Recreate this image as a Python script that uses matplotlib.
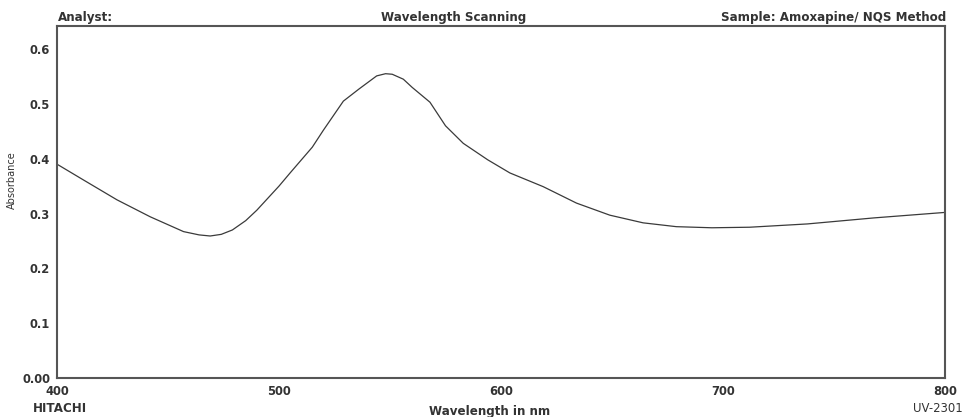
import matplotlib.pyplot as plt

# Wavelength scan
wavelength = [400, 412, 427, 442, 457, 464, 469, 474, 479, 485, 490, 500, 505,
              515, 520, 529, 536, 544, 548, 551, 556, 560, 568, 575, 583, 594,
              604, 619, 634, 649, 664, 679, 695, 712, 738, 768, 800]
absorbance = [0.390, 0.361, 0.325, 0.294, 0.267, 0.261, 0.259, 0.262, 0.270, 0.287,
              0.306, 0.350, 0.374, 0.421, 0.452, 0.505, 0.527, 0.551, 0.555, 0.554,
              0.545, 0.530, 0.503, 0.460, 0.428, 0.398, 0.374, 0.349, 0.319, 0.297,
              0.283, 0.276, 0.274, 0.275, 0.281, 0.292, 0.302]

x_ticks = [400, 500, 600, 700, 800]
y_ticks = [0.0, 0.1, 0.2, 0.3, 0.4, 0.5, 0.6]
y_labels = ["0.00", "0.1", "0.2", "0.3", "0.4", "0.5", "0.6"]

plt.rcParams["font.family"] = ["DejaVu Sans"]

fig = plt.figure(figsize=(9.64, 4.17), dpi=100)
ax = fig.add_axes([57 / 964, 39 / 417, 888 / 964, 352 / 417])

ax.plot(wavelength, absorbance, color="#3a3a3a", linewidth=0.9)

ax.set_xlim(400, 800)
ax.set_ylim(0, 0.642)
ax.set_xticks(x_ticks)
ax.set_xticklabels([str(v) for v in x_ticks], fontsize=8.3, fontweight="bold", color="#333333")
ax.set_yticks(y_ticks)
ax.set_yticklabels(y_labels, fontsize=8.3, fontweight="bold", color="#333333")
ax.tick_params(length=0, pad=5)
for side in ax.spines.values():
    side.set_color("#555555")
    side.set_linewidth(1.5)

# header and footer text like the instrument printout
txt = dict(fontsize=8.6, fontweight="bold", color="#333333")
fig.text(58 / 964, 1 - 17 / 417, "Analyst:", ha="left", va="center", **txt)
fig.text(454 / 964, 1 - 17 / 417, "Wavelength Scanning", ha="center", va="center", **txt)
fig.text(946 / 964, 1 - 17 / 417, "Sample: Amoxapine/ NQS Method", ha="right", va="center", **txt)
fig.text(33 / 964, 1 - 409 / 417, "HITACHI", ha="left", va="center", **txt)
fig.text(490 / 964, 1 - 411 / 417, "Wavelength in nm", ha="center", va="center", **txt)
fig.text(963 / 964, 1 - 409 / 417, "UV-2301", ha="right", va="center", fontsize=8.4, color="#333333")
fig.text(12 / 964, 1 - 180 / 417, "Absorbance", rotation=90, ha="center", va="center",
         fontsize=7, color="#333333")

fig.savefig("out.png", dpi=100)
